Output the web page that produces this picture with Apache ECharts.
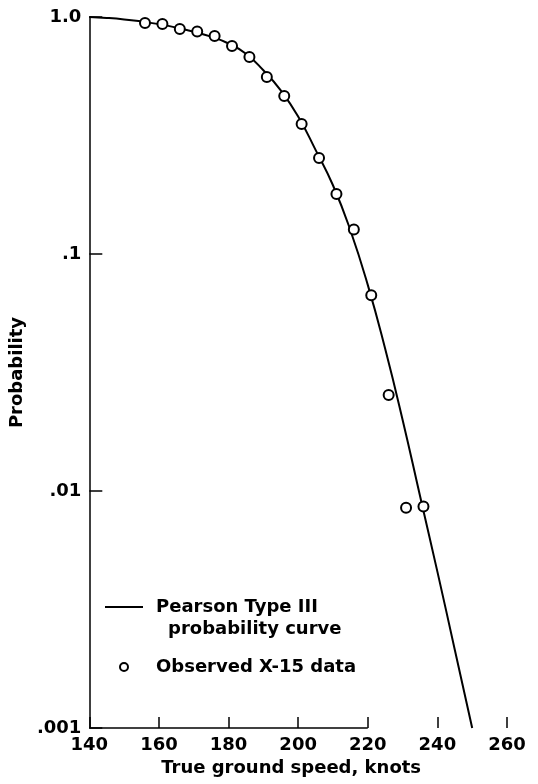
<!DOCTYPE html>
<html>
<head>
<meta charset="utf-8">
<script src="https://cdn.jsdelivr.net/npm/echarts@6/dist/echarts.min.js"></script>
<style>
  html, body { margin: 0; padding: 0; background: #fff; }
  #chart { width: 538px; height: 784px; }
</style>
</head>
<body>
<div id="chart"></div>
<script>
    // Pearson Type III probability curve
    var curveSpeed = [140, 145, 150, 155, 160, 165, 170, 175, 180, 185, 190, 195,
        200, 205, 210, 215, 220, 225, 230, 235, 240, 245, 250];
    var curveProb = [1.0, 0.991, 0.977, 0.957, 0.933, 0.902, 0.867, 0.826, 0.773, 0.700, 0.596, 0.490,
        0.380, 0.275, 0.195, 0.126, 0.0741, 0.0398, 0.0200, 0.00955, 0.00457, 0.00214, 0.001];

    // Observed X-15 data
    var obsSpeed = [156, 161, 166, 171, 176, 181, 186, 191, 196, 201, 206, 211, 216, 221, 226, 231, 236];
    var obsProb = [0.943, 0.934, 0.890, 0.869, 0.831, 0.754, 0.678, 0.558, 0.464, 0.354, 0.254, 0.179,
        0.127, 0.067, 0.0254, 0.0085, 0.0086];

    // axis ticks
    var xTicks = [140, 160, 180, 200, 220, 240, 260];
    var yTickValues = [1, 0.1, 0.01, 0.001];
    var yTickLabels = ['1.0', '.1', '.01', '.001'];

    var curveName = 'Pearson Type III probability curve';
    var obsName = 'Observed X-15 data';

    var font = 'DejaVu Sans';

    function zip(a, b) {
        return a.map(function (v, i) { return [v, b[i]]; });
    }

    var chart = echarts.init(document.getElementById('chart'), null, { renderer: 'canvas' });

    var option = {
        animation: false,
        backgroundColor: '#fff',
        grid: {
            left: 77,
            right: 31,
            top: 17,
            bottom: 56,
            containLabel: false
        },
        legend: {
            orient: 'vertical',
            left: 104,
            top: 574,
            padding: 0,
            itemWidth: 38,
            itemHeight: 8,
            itemGap: 16,
            selectedMode: false,
            textStyle: {
                fontFamily: font,
                fontWeight: 'bold',
                fontSize: 18,
                lineHeight: 22,
                color: '#000',
                padding: [0, 0, 0, 8],
                rich: {
                    a: { fontFamily: font, fontWeight: 'bold', fontSize: 18, lineHeight: 22, color: '#000' },
                    b: { fontFamily: font, fontWeight: 'bold', fontSize: 18, lineHeight: 22, color: '#000', padding: [0, 0, 0, 12] }
                }
            },
            formatter: function (name) {
                if (name === curveName) {
                    return '{a|Pearson Type III}\n{b|probability curve}';
                }
                return name;
            },
            data: [
                { name: curveName, itemStyle: { opacity: 0 }, textStyle: { padding: [22, 0, 0, 8] } },
                { name: obsName }
            ]
        },
        xAxis: {
            type: 'value',
            min: xTicks[0],
            max: xTicks[xTicks.length - 1],
            interval: xTicks[1] - xTicks[0],
            name: 'True ground speed, knots',
            nameLocation: 'middle',
            nameGap: 30,
            nameTextStyle: {
                fontFamily: font,
                fontWeight: 'bold',
                fontSize: 18,
                color: '#000',
                padding: [0, 14, 0, 0]
            },
            axisLine: { show: false },
            axisTick: {
                show: true,
                inside: true,
                length: 11,
                lineStyle: { color: '#000', width: 1.5 }
            },
            axisLabel: {
                margin: 8,
                fontFamily: font,
                fontWeight: 'bold',
                fontSize: 18,
                color: '#000'
            },
            splitLine: { show: false }
        },
        yAxis: {
            type: 'log',
            logBase: 10,
            min: yTickValues[yTickValues.length - 1],
            max: yTickValues[0],
            name: 'Probability',
            nameLocation: 'middle',
            nameRotate: 90,
            nameGap: 44,
            nameTextStyle: {
                fontFamily: font,
                fontWeight: 'bold',
                fontSize: 18,
                color: '#000'
            },
            axisLine: { show: true, lineStyle: { color: '#000', width: 1.5 } },
            axisTick: {
                show: true,
                inside: true,
                length: 13,
                lineStyle: { color: '#000', width: 1.5 }
            },
            minorTick: { show: false },
            axisLabel: {
                margin: 8,
                fontFamily: font,
                fontWeight: 'bold',
                fontSize: 18,
                color: '#000',
                formatter: function (v) {
                    for (var i = 0; i < yTickValues.length; i++) {
                        if (Math.abs(Math.log10(v) - Math.log10(yTickValues[i])) < 1e-6) {
                            return yTickLabels[i];
                        }
                    }
                    return '';
                }
            },
            splitLine: { show: false }
        },
        series: [
            {
                name: curveName,
                type: 'line',
                data: zip(curveSpeed, curveProb),
                smooth: true,
                symbol: 'none',
                lineStyle: { color: '#000', width: 2 },
                itemStyle: { color: '#000' },
                z: 2,
                // the bottom axis line in the original only runs from 140 to 220
                markLine: {
                    silent: true,
                    symbol: 'none',
                    label: { show: false },
                    lineStyle: { color: '#000', width: 1.5, type: 'solid' },
                    data: [[{ coord: [xTicks[0], yTickValues[3]] }, { coord: [xTicks[4], yTickValues[3]] }]]
                }
            },
            {
                name: obsName,
                type: 'scatter',
                data: zip(obsSpeed, obsProb),
                symbol: 'circle',
                symbolSize: 10,
                itemStyle: { color: '#fff', borderColor: '#000', borderWidth: 2, opacity: 1 },
                z: 3
            }
        ]
    };

    chart.setOption(option);
    window.addEventListener('resize', chart.resize);
</script>
</body>
</html>
